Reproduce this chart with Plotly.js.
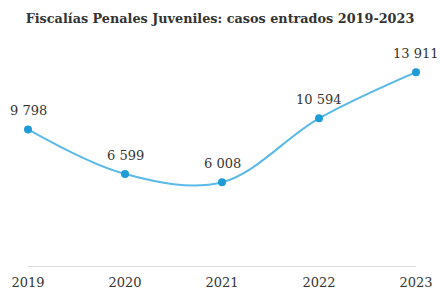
<!DOCTYPE html>
<html><head><meta charset="utf-8">
<script src="https://cdn.plot.ly/plotly-3.0.1.min.js"></script>
<style>html,body{margin:0;padding:0;background:#fff}#c{width:440px;height:291px}</style>
</head><body><div id="c"></div>
<script>
const years = [2019, 2020, 2021, 2022, 2023];
const cases = [9798, 6599, 6008, 10594, 13911];
const tickLabels = ['2019', '2020', '2021', '2022', '2023'];

const fmt = v => String(v).replace(/\B(?=(\d{3})+(?!\d))/g, ' ');

const trace = {
  x: years, y: cases, type: 'scatter', mode: 'lines+markers',
  line: {shape: 'spline', color: '#5ab9e6', width: 2, smoothing: 1},
  marker: {color: '#1f9bd7', size: 8},
  cliponaxis: false, hoverinfo: 'skip'
};
const annotations = years.map((yr, i) => ({
  x: yr, y: cases[i], xref: 'x', yref: 'y', text: fmt(cases[i]), showarrow: false,
  yanchor: 'bottom', xanchor: 'center', yshift: 9,
  font: {family: 'DejaVu Serif', size: 13, color: '#333333'}
}));
const layout = {
  width: 440, height: 291,
  margin: {l: 28, r: 24, t: 50, b: 25},
  paper_bgcolor: '#fff', plot_bgcolor: '#fff',
  title: {text: '<b>Fiscalías Penales Juveniles: casos entrados 2019-2023</b>',
    font: {family: 'DejaVu Serif', size: 12.8, color: '#333333'}, x: 0.5, xanchor: 'center', y: 0.938, yanchor: 'middle'},
  xaxis: {range: [2019, 2023], tickvals: years, ticktext: tickLabels, showgrid: false, zeroline: false,
    showline: true, linecolor: '#d9d9d9', linewidth: 1, ticks: 'outside', ticklen: 4, tickcolor: 'rgba(0,0,0,0)',
    tickfont: {family: 'DejaVu Serif', size: 13, color: '#333333'}, fixedrange: true},
  yaxis: {range: [0, 15500], visible: false, showgrid: false, zeroline: false, fixedrange: true},
  annotations: annotations,
  showlegend: false
};
Plotly.newPlot('c', [trace], layout, {displayModeBar: false, staticPlot: true});
</script></body></html>
